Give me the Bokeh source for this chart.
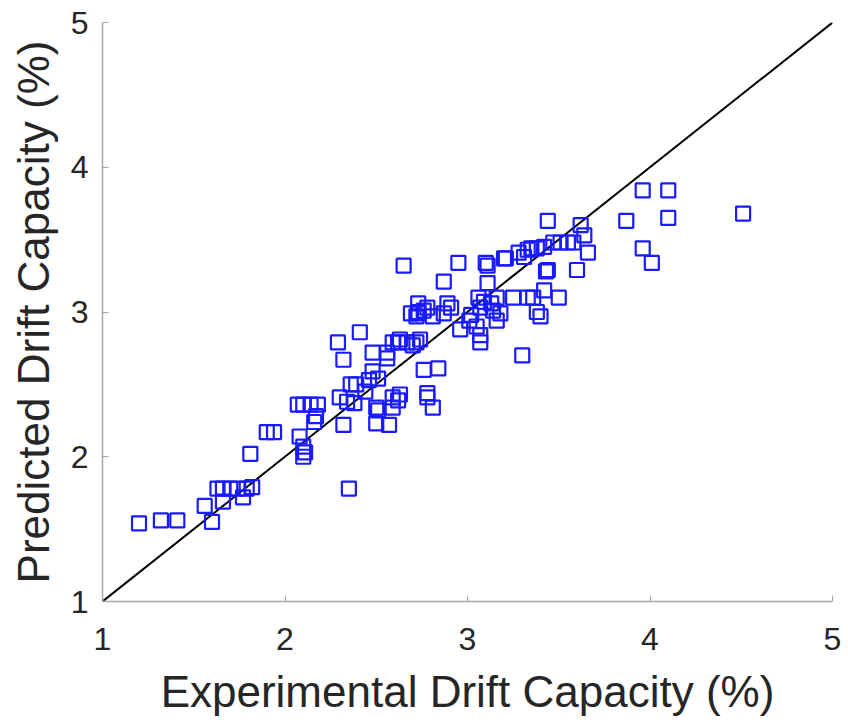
from bokeh.plotting import figure
from bokeh.embed import file_html
from bokeh.resources import INLINE
from bokeh.models import Range1d, FixedTicker

experimental = [
    1.20, 1.32, 1.41, 1.56, 1.60, 1.63, 1.66, 1.70, 1.74, 1.79,
    1.66, 1.77, 1.82, 1.81, 1.90, 1.94, 2.07, 2.10, 2.14, 2.18,
    2.08, 2.10, 2.11, 2.16, 2.32, 2.35, 2.34, 2.10, 2.17,
    2.29, 2.41, 2.32, 2.48, 2.56, 2.62, 2.67, 2.72, 2.69, 2.73,
    2.78, 2.76, 2.84, 2.78, 2.81, 2.48, 2.51, 2.36, 2.39, 2.30,
    2.38, 2.50, 2.51, 2.59, 2.62, 2.63, 2.59, 2.50, 2.57, 2.44, 2.46,
    2.65, 2.95, 2.87, 3.10, 3.20, 3.28, 3.33, 3.38, 3.42, 3.47,
    3.51, 3.55, 3.58, 3.66, 3.60, 3.44, 3.42, 3.50, 3.25, 3.33,
    3.36, 3.38, 3.40, 3.11, 3.30, 2.73, 2.73, 2.76, 2.72, 2.89,
    2.91, 2.87, 2.81, 3.06, 3.09, 3.13, 3.07, 3.14, 3.18, 3.16,
    2.96, 3.05, 3.07, 3.07, 2.74, 2.70, 2.63, 2.59, 2.56, 2.78,
    3.01, 3.02,
    3.96, 4.10, 4.51, 4.10, 3.87, 3.44, 3.62, 3.96, 4.01, 3.43,
    3.64, 3.35, 3.21, 3.11, 3.16, 3.31,
]
predicted = [
    1.54, 1.56, 1.56, 1.66, 1.55, 1.78, 1.78, 1.78, 1.78, 1.78,
    1.69, 1.72, 1.79, 2.02, 2.17, 2.17, 2.36, 2.36, 2.36, 2.36,
    2.14, 2.00, 2.03, 2.24, 2.22, 1.78, 2.38, 2.07, 2.28,
    2.79, 2.86, 2.67, 2.72, 2.68, 2.79, 2.79, 2.79, 2.99, 2.99,
    3.03, 2.60, 2.61, 2.41, 2.34, 2.59, 2.54, 2.50, 2.50, 2.41,
    2.37, 2.34, 2.32, 2.41, 2.39, 2.43, 2.34, 2.23, 2.22, 2.45, 2.53,
    3.32, 3.34, 3.21, 3.34, 3.37, 3.41, 3.43, 3.44, 3.45, 3.48,
    3.48, 3.48, 3.48, 3.41, 3.29, 3.29, 3.15, 3.10, 3.10, 3.10,
    3.10, 3.00, 2.97, 3.20, 2.70, 3.06, 3.00, 3.01, 2.97, 3.06,
    3.03, 2.99, 2.97, 3.10, 3.07, 3.06, 3.03, 3.01, 2.99, 2.94,
    2.88, 2.90, 2.84, 2.79, 2.81, 2.77, 2.81, 2.79, 2.72, 2.44,
    2.94, 2.98,
    3.84, 3.84, 3.68, 3.65, 3.63, 3.63, 3.60, 3.44, 3.34, 3.28,
    3.53, 3.44, 3.37, 3.32, 3.10, 3.38,
]
ref_line = [1, 5]
ticks = [1, 2, 3, 4, 5]

p = figure(width=848, height=725, output_backend="svg", toolbar_location=None,
           x_range=Range1d(1, 5), y_range=Range1d(1, 5),
           min_border_left=102, min_border_right=16,
           min_border_top=22, min_border_bottom=124)
p.outline_line_color = None
p.grid.visible = False

p.line(ref_line, ref_line, line_color="black", line_width=2)
p.scatter(experimental, predicted, marker="square", size=14,
          fill_color=None, line_color="#1a1aff", line_width=2.2)

for ax in (p.xaxis[0], p.yaxis[0]):
    ax.ticker = FixedTicker(ticks=ticks)
    ax.minor_tick_line_color = None
    ax.major_tick_in = 6
    ax.major_tick_out = 0
    ax.axis_line_color = "#a4aaa4"
    ax.axis_line_width = 1.5
    ax.major_tick_line_color = "#a4aaa4"
    ax.major_label_text_font = "Liberation Sans"
    ax.major_label_text_font_size = "32px"
    ax.major_label_text_color = "#262626"
    ax.axis_label_text_font = "Liberation Sans"
    ax.axis_label_text_font_size = "44px"
    ax.axis_label_text_font_style = "normal"
    ax.axis_label_text_color = "#262626"

p.xaxis.axis_label = "Experimental Drift Capacity (%)"
p.yaxis.axis_label = "Predicted Drift Capacity (%)"
p.xaxis.major_label_standoff = 26
p.xaxis.axis_label_standoff = 14
p.yaxis.major_label_standoff = 14
p.yaxis.axis_label_standoff = 10

open("out.html", "w").write(file_html(p, INLINE))
